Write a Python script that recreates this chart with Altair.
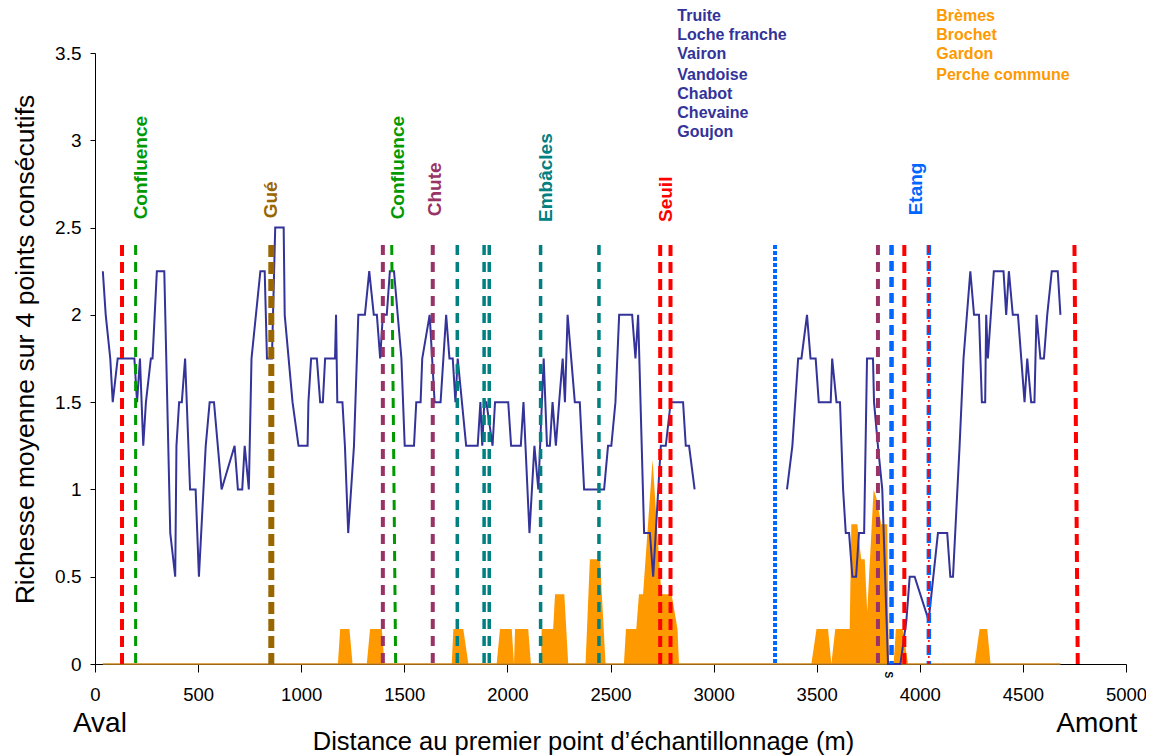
import altair as alt
import pandas as pd

FONT = "Liberation Sans"

# ---- blue line: species richness (segment 1 and segment 2) ----
seg1_m = [38, 52, 74, 86, 110, 191, 204, 218, 234, 247, 271, 279, 300, 336, 365, 389, 395, 408, 421, 437,
          461, 488, 504, 537, 556, 577, 614, 677, 693, 714, 726, 746, 759, 802, 823, 834, 858, 874, 915, 920,
          958, 987, 1031, 1035, 1048, 1076, 1092, 1105, 1116, 1164, 1169, 1175, 1200, 1212, 1228, 1256, 1277,
          1309, 1330, 1352, 1367, 1383, 1396, 1415, 1430, 1450, 1486, 1502, 1547, 1558, 1579, 1587, 1623, 1647,
          1676, 1703, 1719, 1735, 1748, 1759, 1800, 1856, 1869, 1878, 1888, 1898, 1928, 1940, 2004, 2018, 2065,
          2078, 2107, 2131, 2150, 2176, 2192, 2206, 2219, 2235, 2251, 2268, 2279, 2292, 2327, 2351, 2372, 2469,
          2488, 2504, 2524, 2542, 2605, 2621, 2634, 2663, 2691, 2707, 2744, 2768, 2792, 2852, 2865, 2881, 2908]
seg1_v = [2.25, 2.0, 1.75, 1.5, 1.75, 1.75, 1.5, 1.75, 1.25, 1.5, 1.75, 1.75, 2.25, 2.25, 0.75, 0.5, 1.25, 1.5, 1.5, 1.75,
          1.0, 1.0, 0.5, 1.25, 1.5, 1.5, 1.0, 1.25, 1.0, 1.0, 1.25, 1.0, 1.75, 2.25, 2.25, 1.75, 1.75, 2.5, 2.5, 2.0,
          1.5, 1.25, 1.25, 1.5, 1.75, 1.75, 1.5, 1.5, 1.75, 1.75, 2.0, 1.5, 1.5, 1.25, 0.75, 1.25, 2.0,
          2.0, 2.25, 2.0, 2.0, 1.75, 2.0, 2.0, 2.25, 2.25, 1.75, 1.25, 1.25, 1.5, 1.5, 1.75, 2.0, 1.5,
          1.5, 2.0, 1.75, 1.75, 1.5, 1.75, 1.25, 1.25, 1.5, 1.25, 1.5, 1.5, 1.25, 1.5, 1.5, 1.25, 1.25,
          1.5, 0.75, 1.25, 1.0, 1.75, 1.25, 1.25, 1.5, 1.25, 1.5, 1.75, 1.5, 2.0, 1.5, 1.5, 1.0, 1.0,
          1.25, 1.25, 1.5, 2.0, 2.0, 1.75, 2.0, 0.75, 0.75, 0.5, 1.25, 1.25, 1.5, 1.5, 1.25, 1.25, 1.0]

seg2_m = [3356, 3382, 3410, 3426, 3453, 3470, 3495, 3510, 3568, 3575, 3596, 3613, 3628, 3641, 3657, 3673, 3691,
          3705, 3730, 3744, 3773, 3778, 3797, 3818, 3846, 3906, 3935, 3951, 3975, 4043, 4088, 4133, 4148, 4161,
          4193, 4212, 4245, 4263, 4287, 4301, 4317, 4322, 4330, 4359, 4406, 4419, 4432, 4451, 4476, 4508, 4521,
          4540, 4556, 4566, 4585, 4602, 4618, 4640, 4669, 4682]
seg2_v = [1.0, 1.25, 1.75, 1.75, 2.0, 1.75, 1.75, 1.5, 1.5, 1.75, 1.5, 1.5, 1.0, 0.75, 0.75, 0.5, 0.5,
          0.75, 0.75, 1.75, 1.75, 1.5, 1.25, 1.0, 0.0, 0.0, 0.25, 0.5, 0.5, 0.25, 0.75, 0.75, 0.5, 0.5,
          1.25, 1.75, 2.25, 2.0, 2.0, 1.5, 1.5, 2.0, 1.75, 2.25, 2.25, 2.0, 2.25, 2.0, 2.0, 1.5, 1.75,
          1.5, 1.5, 2.0, 1.75, 1.75, 2.0, 2.25, 2.25, 2.0]

# ---- orange area: pond species ----
area_m = [38, 1178, 1189, 1234, 1249, 1318, 1334, 1391, 1404, 1730, 1738, 1786, 1811, 1948, 1964, 2021, 2032,
          2037, 2101, 2114, 2163, 2166, 2222, 2231, 2276, 2295, 2379, 2400, 2449, 2476, 2565, 2575, 2625, 2638,
          2658, 2704, 2747, 2796, 2825, 2832, 3474, 3499, 3555, 3571, 3590, 3660, 3668, 3697, 3716, 3733, 3745,
          3776, 3790, 3813, 3842, 3850, 3873, 3884, 3917, 3943, 4266, 4290, 4327, 4343, 4682]
area_v = [0, 0, 0.2, 0.2, 0, 0, 0.2, 0.2, 0, 0, 0.2, 0.2, 0, 0, 0.2, 0.2, 0,
          0.2, 0.2, 0, 0, 0.2, 0.2, 0.4, 0.4, 0, 0, 0.6, 0.6, 0, 0, 0.2, 0.2, 0.4,
          0.4, 1.17, 0.4, 0.4, 0.2, 0, 0, 0.2, 0.2, 0, 0.2, 0.2, 0.8, 0.8, 0.6, 0.6, 0.3,
          1.0, 0.95, 0.8, 0.8, 0, 0, 0.2, 0.2, 0, 0, 0.2, 0.2, 0, 0]

# ---- vertical marker lines (top x, bottom x) ----
seuil_top = [131, 2741, 2791, 3925, 4750]
seuil_bot = [131, 2741, 2791, 3925, 4766]
confl_top = [197, 1439]
confl_bot = [197, 1458]
gue_x = [855]
chute_x = [1396, 1638, 3797]
embacle_x = [1757, 1887, 1912, 2161, 2444]
etang_dash_x = [3863, 4044]
etang_dot_x = [3298]
seuil_dashdot_x = [4044]
LINE_TOP = 2.4

# ---- annotation texts ----
lab_text = ["Confluence", "Gué", "Confluence", "Chute", "Embâcles", "Seuil", "Etang"]
lab_m = [222, 853, 1471, 1649, 2188, 2768, 3982]
lab_v = [2.547, 2.553, 2.547, 2.565, 2.532, 2.532, 2.570]
lab_col = ["#009900", "#996600", "#009900", "#993366", "#008080", "#FF0000", "#0066FF"]

river_species = ["Truite", "Loche franche", "Vairon", "Vandoise", "Chabot", "Chevaine", "Goujon"]
river_v = [3.683, 3.572, 3.463, 3.347, 3.234, 3.127, 3.016]
pond_species = ["Brèmes", "Brochet", "Gardon", "Perche commune"]
pond_v = [3.683, 3.572, 3.463, 3.347]
river_m = 2824
pond_m = 4080

ends_text = ["Aval", "Amont"]
ends_m = [-107, 4662]
ends_v = [-0.392, -0.392]

stray_text = ["S"]
stray_m = [3845]
stray_v = [-0.062]

# ---------------------------------------------------------------
xs = alt.Scale(domain=[0, 5000], nice=False, zero=False)
ys = alt.Scale(domain=[0, 3.5], nice=False)

x_axis = alt.Axis(
    values=list(range(0, 5001, 500)), format="d", grid=False, labelFlush=False,
    tickSize=8, labelPadding=13, labelFontSize=18.5,
    title="Distance au premier point d’échantillonnage (m)",
    titleFontSize=25.5, titleFontWeight="normal", titleX=488, titleY=85,
    titleAlign="center", titleBaseline="alphabetic",
)
y_axis = alt.Axis(
    values=[0, 0.5, 1, 1.5, 2, 2.5, 3, 3.5], format="~g", grid=False, labelFlush=False,
    tickSize=5, labelPadding=9, labelFontSize=19,
    title="Richesse moyenne sur 4 points consécutifs",
    titleFontSize=26.5, titleFontWeight="normal", titleX=-70, titleY=296,
    titleAngle=270, titleAlign="center", titleBaseline="middle",
)

area_df = pd.DataFrame({"m": area_m, "v": area_v})
area = alt.Chart(area_df).mark_area(color="#FF9900", interpolate="linear").encode(
    x=alt.X("m:Q", scale=xs, axis=x_axis),
    y=alt.Y("v:Q", scale=ys, axis=y_axis),
)

base_df = pd.DataFrame({"a": [area_m[0]], "b": [area_m[-1]], "v": [0]})
baseline = alt.Chart(base_df).mark_rule(color="#D08A20", strokeWidth=1.5).encode(
    x=alt.X("a:Q", scale=xs), x2="b:Q", y=alt.Y("v:Q", scale=ys)
)

line_df = pd.DataFrame({
    "m": seg1_m + seg2_m,
    "v": seg1_v + seg2_v,
    "seg": ["a"] * len(seg1_m) + ["b"] * len(seg2_m),
})
line = alt.Chart(line_df).mark_line(color="#333399", strokeWidth=2).encode(
    x=alt.X("m:Q", scale=xs), y=alt.Y("v:Q", scale=ys), detail="seg:N"
)


def vlines(top, bot, color, width, dash):
    df = pd.DataFrame({"xt": top, "xb": bot, "yt": [LINE_TOP] * len(top), "yb": [0] * len(top)})
    return alt.Chart(df).mark_rule(color=color, strokeWidth=width, strokeDash=dash).encode(
        x=alt.X("xt:Q", scale=xs), x2="xb:Q", y=alt.Y("yt:Q", scale=ys), y2="yb:Q"
    )


rules = [
    vlines(gue_x, gue_x, "#996600", 6, [12, 5]),
    vlines(confl_top, confl_bot, "#009900", 3, [10, 7]),
    vlines(chute_x, chute_x, "#993366", 4, [10, 7]),
    vlines(embacle_x, embacle_x, "#008080", 3.5, [10, 7]),
    vlines(etang_dot_x, etang_dot_x, "#0066FF", 4, [4, 2]),
    vlines(etang_dash_x, etang_dash_x, "#0066FF", 4.5, [10, 6]),
    vlines(seuil_top, seuil_bot, "#FF0000", 4, [11, 6]),
    vlines(seuil_dashdot_x, seuil_dashdot_x, "#FF0000", 1.5, [8, 3, 2, 3]),
]

lab_df = pd.DataFrame({"t": lab_text, "m": lab_m, "v": lab_v, "c": lab_col})
labels = alt.Chart(lab_df).mark_text(
    angle=270, align="left", baseline="middle", font=FONT, fontSize=19, fontWeight="bold"
).encode(
    x=alt.X("m:Q", scale=xs), y=alt.Y("v:Q", scale=ys), text="t:N", color=alt.Color("c:N", scale=None)
)

river_df = pd.DataFrame({"t": river_species, "v": river_v, "m": [river_m] * len(river_species)})
river_txt = alt.Chart(river_df).mark_text(
    align="left", baseline="alphabetic", font=FONT, fontSize=16, fontWeight="bold", color="#333399"
).encode(x=alt.X("m:Q", scale=xs), y=alt.Y("v:Q", scale=ys), text="t:N")

pond_df = pd.DataFrame({"t": pond_species, "v": pond_v, "m": [pond_m] * len(pond_species)})
pond_txt = alt.Chart(pond_df).mark_text(
    align="left", baseline="alphabetic", font=FONT, fontSize=16, fontWeight="bold", color="#FF9900"
).encode(x=alt.X("m:Q", scale=xs), y=alt.Y("v:Q", scale=ys), text="t:N")

ends_df = pd.DataFrame({"t": ends_text, "m": ends_m, "v": ends_v})
ends_txt = alt.Chart(ends_df).mark_text(
    align="left", baseline="alphabetic", font=FONT, fontSize=28, color="black"
).encode(x=alt.X("m:Q", scale=xs), y=alt.Y("v:Q", scale=ys), text="t:N")

stray_df = pd.DataFrame({"t": stray_text, "m": stray_m, "v": stray_v})
stray_txt = alt.Chart(stray_df).mark_text(
    angle=90, align="center", baseline="middle", font=FONT, fontSize=10, fontWeight="bold", color="black"
).encode(x=alt.X("m:Q", scale=xs), y=alt.Y("v:Q", scale=ys), text="t:N")

chart = alt.layer(
    area, baseline, line, *rules, labels, river_txt, pond_txt, ends_txt, stray_txt
).properties(
    width=1031, height=611,
    autosize=alt.AutoSizeParams(type="none"),
    padding={"left": 87, "top": 45, "right": 20, "bottom": 92},
    background="white",
).configure_view(strokeWidth=0).configure_axis(
    domainColor="black", tickColor="black", labelColor="black", titleColor="black",
    labelFont=FONT, titleFont=FONT, domainWidth=1, tickWidth=1,
)

chart.save("out.html", embed_options={"renderer": "svg", "actions": False})
